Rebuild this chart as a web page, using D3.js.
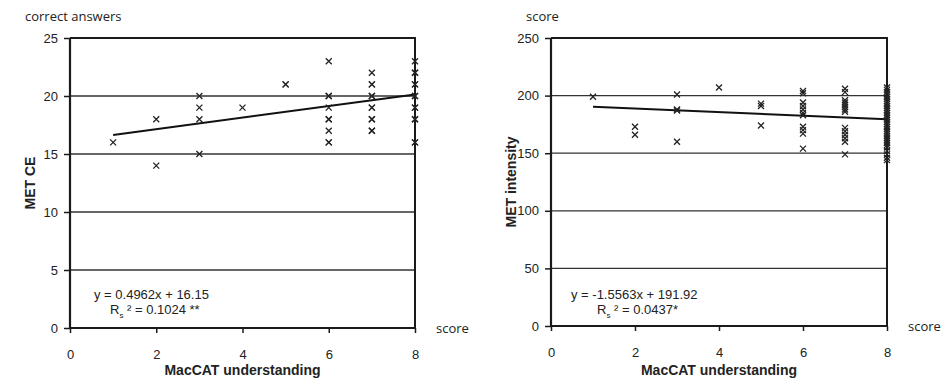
<!DOCTYPE html>
<meta charset="utf-8" />
<script src="https://d3js.org/d3.v7.min.js"></script>
<style>
	body { margin: 0; background: #fff; }
	text { font-family: "Liberation Sans", Arial, sans-serif; fill: #222; }
	.unit { font-family: "Open Sans", sans-serif; font-size: 13px; }
</style>
<div id="my_dataviz"></div>
<script>
	// ---- data ----
	var xTicks = [0, 2, 4, 6, 8];

	// left panel: MET CE vs MacCAT understanding
	var ceX = [1, 2, 2, 3, 3, 3, 3, 4, 5, 5,
		6, 6, 6, 6, 6, 6, 6, 6, 6,
		7, 7, 7, 7, 7, 7, 7, 7, 7, 7, 7,
		8, 8, 8, 8, 8, 8, 8, 8, 8, 8, 8, 8, 8];
	var ceY = [16, 18, 14, 20, 19, 18, 15, 19, 21, 21,
		23, 20, 20, 19, 18, 18, 17, 16, 16,
		22, 21, 21, 20, 20, 19, 19, 18, 18, 17, 17,
		23, 22, 22, 21, 21, 20, 20, 19, 19, 18, 18, 16, 16];
	var ceTicks = [0, 5, 10, 15, 20, 25];
	var ceFit = { slope: 0.4962, intercept: 16.15 };

	// right panel: MET intensity vs MacCAT understanding
	var intX = [1, 2, 2, 3, 3, 3, 3, 4, 5, 5, 5,
		6, 6, 6, 6, 6, 6, 6, 6, 6, 6, 6,
		7, 7, 7, 7, 7, 7, 7, 7, 7, 7, 7, 7, 7, 7,
		8, 8, 8, 8, 8, 8, 8, 8, 8, 8, 8, 8, 8, 8, 8, 8,
		8, 8, 8, 8, 8, 8, 8, 8, 8, 8, 8, 8, 8, 8, 8];
	var intY = [199, 173, 166, 201, 188, 187, 160, 207, 193, 191, 174,
		204, 202, 194, 191, 188, 185, 183, 173, 170, 167, 154,
		206, 203, 196, 194, 192, 190, 188, 186, 172, 169, 166, 163, 160, 149,
		207, 205, 203, 201, 199, 197, 195, 193, 191, 189, 187, 185, 183, 181, 179, 177,
		175, 173, 171, 169, 167, 165, 163, 161, 159, 157, 155, 152, 149, 146, 144];
	var intTicks = [0, 50, 100, 150, 200, 250];
	var intFit = { slope: -1.5563, intercept: 191.92 };

	var svg = d3.select("#my_dataviz")
		.append("svg")
		.attr("width", 951)
		.attr("height", 382);

	function drawPanel(opt) {
		var x = d3.scaleLinear().domain([0, 8]).range([opt.left, opt.right]);
		var y = d3.scaleLinear().domain([0, opt.yMax]).range([opt.bottom, 38]);
		var g = svg.append("g");

		// grid lines
		g.selectAll(".grid")
			.data(opt.yTicks.filter(d => d > 0 && d < opt.yMax))
			.join("line")
			.attr("x1", opt.left).attr("x2", opt.right)
			.attr("y1", d => y(d)).attr("y2", d => y(d))
			.attr("stroke", "#333").attr("stroke-width", 1.3);

		// frame (top + right)
		g.append("path")
			.attr("d", "M" + opt.left + "," + y(opt.yMax) + "H" + opt.right + "V" + opt.bottom)
			.attr("fill", "none").attr("stroke", "#1a1a1a").attr("stroke-width", 2);

		// axes
		var ya = g.append("g")
			.attr("transform", "translate(" + opt.left + ",0)")
			.call(d3.axisLeft(y).tickValues(opt.yTicks).tickSize(6).tickPadding(6));
		var xa = g.append("g")
			.attr("transform", "translate(0," + opt.bottom + ")")
			.call(d3.axisBottom(x).tickValues(xTicks).tickSize(5).tickPadding(17));
		[ya, xa].forEach(function (a) {
			a.select(".domain").attr("stroke", "#1a1a1a").attr("stroke-width", 2.2);
			a.selectAll(".tick line").attr("stroke", "#1a1a1a").attr("stroke-width", 1.5);
			a.selectAll(".tick text")
				.style("font-family", "'Liberation Sans', Arial, sans-serif")
				.style("font-size", "13px").attr("fill", "#222");
		});
		ya.select(".domain").attr("d", "M0," + opt.bottom + "V" + y(opt.yMax));
		xa.select(".domain").attr("d", "M" + opt.left + ",0H" + opt.right);

		// trend line
		g.append("line")
			.attr("x1", x(1)).attr("y1", y(opt.fit.slope * 1 + opt.fit.intercept))
			.attr("x2", x(8)).attr("y2", y(opt.fit.slope * 8 + opt.fit.intercept))
			.attr("stroke", "#111").attr("stroke-width", 2);

		// markers (x)
		var s = 3;
		g.selectAll(".pt")
			.data(opt.xs.map((d, i) => [d, opt.ys[i]]))
			.join("path")
			.attr("d", d => {
				var px = x(d[0]), py = y(d[1]);
				return "M" + (px - s) + "," + (py - s) + "L" + (px + s) + "," + (py + s) +
					"M" + (px - s) + "," + (py + s) + "L" + (px + s) + "," + (py - s);
			})
			.attr("stroke", "#222").attr("stroke-width", 1.3).attr("fill", "none");

		// unit labels
		g.append("text").attr("class", "unit")
			.attr("x", opt.unitX).attr("y", 21).text(opt.unit);
		g.append("text").attr("class", "unit")
			.attr("x", opt.right + 21).attr("y", opt.bottom + 5).text("score");

		// axis titles
		g.append("text")
			.attr("text-anchor", "middle")
			.attr("x", (opt.left + opt.right) / 2)
			.attr("y", 375)
			.style("font-size", "14px").style("font-weight", "bold")
			.text("MacCAT understanding");
		g.append("text")
			.attr("text-anchor", "middle")
			.attr("transform", "translate(" + (opt.left - 35) + "," + ((opt.bottom + 38) / 2) + ") rotate(-90)")
			.style("font-size", "14px").style("font-weight", "bold")
			.text(opt.yTitle);

		// equation
		g.append("text")
			.attr("x", opt.eqX).attr("y", 299)
			.style("font-size", "13px")
			.text(opt.eq);
		var r = g.append("text")
			.attr("x", opt.eqX + opt.rIndent).attr("y", 314)
			.style("font-size", "13px");
		r.append("tspan").text("R");
		r.append("tspan").attr("dy", 4).style("font-size", "8px").text("s");
		r.append("tspan").attr("dy", -4).text(" \u00b2 = " + opt.r2);
	}

	drawPanel({
		left: 70, right: 415, bottom: 328, yMax: 25,
		yTicks: ceTicks, xs: ceX, ys: ceY, fit: ceFit,
		unit: "correct answers", unitX: 25, yTitle: "MET CE",
		eq: "y = 0.4962x + 16.15", eqX: 94, rIndent: 16, r2: "0.1024 **"
	});
	drawPanel({
		left: 551, right: 887, bottom: 326, yMax: 250,
		yTicks: intTicks, xs: intX, ys: intY, fit: intFit,
		unit: "score", unitX: 526, yTitle: "MET intensity",
		eq: "y = -1.5563x + 191.92", eqX: 571, rIndent: 26, r2: "0.0437*"
	});
</script>
